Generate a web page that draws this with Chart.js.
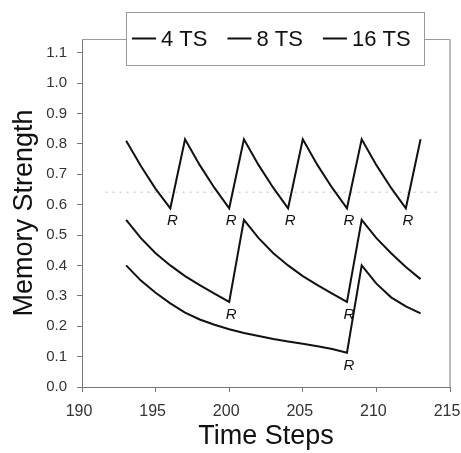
<!DOCTYPE html>
<html>
<head>
<meta charset="utf-8">
<script src="https://cdn.jsdelivr.net/npm/chart.js@4.4.1/dist/chart.umd.min.js"></script>
<style>
  body { margin: 0; background: #fff; }
  canvas { display: block; }
</style>
</head>
<body>
<canvas id="graficaMemoria" width="461" height="453"></canvas>
<script>
// Datos
const pasos = [193, 194, 195, 196, 197, 198, 199, 200, 201, 202, 203,
               204, 205, 206, 207, 208, 209, 210, 211, 212, 213];
const valores4TS = [0.81, 0.727, 0.652, 0.588, 0.815, 0.73, 0.655, 0.588, 0.815, 0.73, 0.655,
                    0.588, 0.815, 0.73, 0.655, 0.588, 0.815, 0.73, 0.655, 0.588, 0.815];
const valores8TS = [0.55, 0.49, 0.44, 0.40, 0.365, 0.335, 0.307, 0.28, 0.55, 0.49, 0.44,
                    0.40, 0.365, 0.335, 0.307, 0.28, 0.55, 0.49, 0.44, 0.395, 0.355];
const valores16TS = [0.40, 0.35, 0.31, 0.275, 0.245, 0.222, 0.205, 0.19, 0.178, 0.168, 0.158,
                     0.15, 0.142, 0.134, 0.125, 0.113, 0.40, 0.34, 0.295, 0.265, 0.242];
const etiquetas = ['4 TS', '8 TS', '16 TS'];
// pasos donde se marca una "R" (repaso) en cada serie
const repasos = [[196, 200, 204, 208, 212], [200, 208], [208]];
// línea punteada de referencia
const lineaRefX = [191.6, 214.1];
const lineaRefY = 0.641;
const ticksY = [0, 0.1, 0.2, 0.3, 0.4, 0.5, 0.6, 0.7, 0.8, 0.9, 1.0, 1.1];

const fuente = "Arial, 'Liberation Sans', sans-serif";
const series = [valores4TS, valores8TS, valores16TS];

const puntos = vals => pasos.map((t, i) => ({ x: t, y: vals[i] }));

// Marco, leyenda en recuadro y etiquetas R
const marcoPlugin = {
    id: 'marco',
    afterDraw(chart) {
        const { ctx, chartArea: a, scales: { x, y } } = chart;
        ctx.save();
        // borde superior y derecho
        ctx.strokeStyle = '#999';
        ctx.lineWidth = 1;
        ctx.beginPath();
        ctx.moveTo(a.left, a.top + 0.5);
        ctx.lineTo(a.right, a.top + 0.5);
        ctx.stroke();
        ctx.strokeStyle = '#bbb';
        ctx.lineWidth = 2;
        ctx.beginPath();
        ctx.moveTo(a.right, a.top);
        ctx.lineTo(a.right, a.bottom);
        ctx.stroke();

        // etiquetas R
        ctx.fillStyle = '#111';
        ctx.font = 'italic 15px ' + fuente;
        ctx.textAlign = 'center';
        ctx.textBaseline = 'middle';
        repasos.forEach((lista, s) => {
            lista.forEach(t => {
                const v = series[s][pasos.indexOf(t)];
                ctx.fillText('R', x.getPixelForValue(t) + 2, y.getPixelForValue(v) + 13);
            });
        });

        // leyenda
        const caja = { left: a.left + 44, top: 12, width: 298, height: 53 };
        ctx.fillStyle = '#fff';
        ctx.fillRect(caja.left, caja.top, caja.width, caja.height);
        ctx.strokeStyle = '#999';
        ctx.lineWidth = 1;
        ctx.strokeRect(caja.left + 0.5, caja.top + 0.5, caja.width, caja.height);
        ctx.font = '22px ' + fuente;
        ctx.textAlign = 'left';
        ctx.fillStyle = '#111';
        const cy = caja.top + caja.height / 2;
        let px = caja.left + 6;
        etiquetas.forEach((txt, i) => {
            ctx.strokeStyle = '#111';
            ctx.lineWidth = 2;
            ctx.beginPath();
            ctx.moveTo(px, cy);
            ctx.lineTo(px + 24, cy);
            ctx.stroke();
            px += 29;
            ctx.fillText(txt, px, cy + 1);
            px += ctx.measureText(txt).width + 20;
        });
        ctx.restore();
    }
};

const ctxMem = document.getElementById('graficaMemoria').getContext('2d');
const graficaMemoria = new Chart(ctxMem, {
    type: 'line',
    data: {
        datasets: [
            ...series.map((vals, i) => ({
                label: etiquetas[i],
                data: puntos(vals),
                borderColor: '#111',
                borderWidth: 2,
                pointRadius: 0,
                tension: 0
            })),
            {
                label: 'referencia',
                data: lineaRefX.map(t => ({ x: t, y: lineaRefY })),
                borderColor: '#bbb',
                borderWidth: 1,
                borderDash: [2, 5],
                pointRadius: 0
            }
        ]
    },
    options: {
        responsive: false,
        animation: false,
        devicePixelRatio: 1,
        layout: { padding: { top: 39, right: 0, left: 0, bottom: 0 } },
        plugins: {
            legend: { display: false },
            tooltip: { enabled: false }
        },
        scales: {
            x: {
                type: 'linear',
                min: 190,
                max: 215,
                afterFit: s => { s.height = 66; s.paddingRight = 11; },
                ticks: {
                    stepSize: 5, padding: 10, labelOffset: -3, color: '#333',
                    font: { size: 16, family: fuente }
                },
                grid: { drawOnChartArea: false, tickLength: 5, color: '#777' },
                border: { color: '#777' },
                title: {
                    display: true, text: 'Time Steps', color: '#111',
                    font: { size: 27, family: fuente }, padding: { top: 0, bottom: 0 }
                }
            },
            y: {
                min: 0,
                max: 1.145,
                afterFit: s => { s.width = 82; },
                afterBuildTicks: s => { s.ticks = ticksY.map(v => ({ value: v })); },
                ticks: {
                    padding: 10, color: '#333', font: { size: 15, family: fuente },
                    callback: v => v.toFixed(1)
                },
                grid: { drawOnChartArea: false, tickLength: 5, color: '#777' },
                border: { color: '#777' },
                title: {
                    display: true, text: 'Memory Strength', color: '#111',
                    font: { size: 27, family: fuente }, padding: { top: 8, bottom: 0 }
                }
            }
        }
    },
    plugins: [marcoPlugin]
});
</script>
</body>
</html>
